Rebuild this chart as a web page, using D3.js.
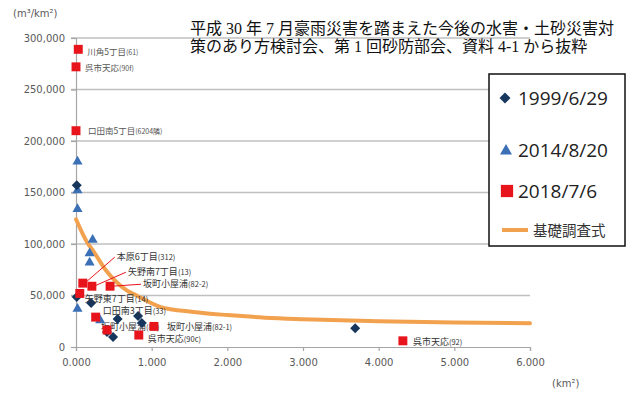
<!DOCTYPE html>
<html>
<head>
<meta charset="utf-8">
<script src="https://cdn.jsdelivr.net/npm/d3@7"></script>
<style>
  html, body { margin: 0; padding: 0; background: #fff; }
  svg { display: block; }
</style>
</head>
<body>
<svg id="chart" width="637" height="394"></svg>
<script>
// ---- data ----
const titleLines = [
  "平成 30 年 7 月豪雨災害を踏まえた今後の水害・土砂災害対",
  "策のあり方検討会、第 1 回砂防部会、資料 4-1 から抜粋"
];
const seriesNames = ["1999/6/29", "2014/8/20", "2018/7/6", "基礎調査式"];

const xTicks = [0, 1, 2, 3, 4, 5, 6];
const yTicks = [0, 50000, 100000, 150000, 200000, 250000, 300000];

// 1999/6/29 (area km², sediment m³/km²)
const s1999x = [0.01, 0.01, 0.20, 0.55, 0.82, 0.87, 0.49, 0.41, 3.69];
const s1999y = [157000, 48500, 42700, 27200, 30100, 23300, 9700, 14600, 18100];

// 2014/8/20
const s2014x = [0.02, 0.02, 0.02, 0.22, 0.18, 0.18, 0.02, 0.32];
const s2014y = [180000, 152000, 134000, 104000, 91000, 82000, 37000, 26000];

// 2018/7/6 with site names
const s2018x = [0.03, 0.00, 0.00, 0.09, 0.21, 0.45, 0.05, 0.26, 0.41, 1.03, 0.83, 4.32];
const s2018y = [289000, 272000, 210000, 62000, 59000, 59000, 52000, 29000, 16500, 20000, 11600, 6000];
const s2018name = ["川角5丁目", "呉市天応", "口田南5丁目", "本原6丁目", "矢野南7丁目", "坂町小屋浦",
                   "矢野東7丁目", "口田南3丁目", "坂町小屋浦", "坂町小屋浦", "呉市天応", "呉市天応"];
const s2018id = ["(61)", "(90f)", "(6204隣)", "(312)", "(13)", "(82-2)",
                 "(14)", "(33)", "(81)", "(82-1)", "(90c)", "(92)"];

// 基礎調査式 curve
const curveX = [0.0, 0.16, 0.22, 0.4, 0.67, 0.8, 1.11, 1.55, 2.0, 2.5, 3.0, 4.0, 5.0, 6.0];
const curveY = [124000, 100000, 94000, 74000, 55000, 50000, 39000, 34000, 31000, 28500, 27000, 25000, 23800, 23000];

// ---- label layout (pixel offsets from each 2018 point) ----
const labelDx = [9, 9, 12, 34, 36, 33, 5, 7, -6, 13, 9, 10];
const labelDy = [2, 1, 0, -26, -14, -2, 5, -6, -3, 0, 4, 1];
const labelLeader = [false, false, false, true, true, true, false, false, false, false, false, false];
const labelSmall = [true, true, true, false, false, false, false, false, false, false, false, false];
const labelUnder = [false, false, false, false, false, false, false, false, true, false, false, false];

// ---- drawing ----
const svg = d3.select("#chart");
const W = 637, H = 394;
const x = d3.scaleLinear().domain([0, 6]).range([76, 530]);
const y = d3.scaleLinear().domain([0, 300000]).range([347, 38]);

const C_NAVY = "#17365d", C_BLUE = "#3b6fb6", C_RED = "#e8141c", C_ORANGE = "#f2a14f";
const GRID = "#c0c0c0", AXIS_TXT = "#595959";
const CJK = "'Noto Sans CJK JP', sans-serif";

svg.append("rect").attr("width", W).attr("height", H).attr("fill", "#fff");

// horizontal gridlines
svg.append("g").selectAll("line").data(yTicks.filter(d => d > 0)).join("line")
  .attr("x1", x(0) - 5).attr("x2", x(6))
  .attr("y1", d => y(d)).attr("y2", d => y(d))
  .attr("stroke", GRID).attr("stroke-width", 1.3);

// axes
const yAxis = d3.axisLeft(y).tickValues(yTicks).tickFormat(d3.format(",")).tickSize(5).tickPadding(6);
const gy = svg.append("g").attr("transform", `translate(${x(0)},0)`).call(yAxis);
const xAxis = d3.axisBottom(x).tickValues(xTicks).tickFormat(d3.format(".3f")).tickSize(4).tickPadding(8);
const gx = svg.append("g").attr("transform", `translate(0,${y(0)})`).call(xAxis);
[gx, gy].forEach(g => {
  g.select(".domain").attr("stroke", "#a6a6a6").attr("stroke-width", 1.2);
  g.selectAll(".tick line").attr("stroke", "#a6a6a6").attr("stroke-width", 1.2);
  g.selectAll(".tick text").attr("fill", AXIS_TXT)
    .style("font-family", "'DejaVu Sans', sans-serif").style("font-size", "10px");
});

// unit labels
svg.append("text").attr("x", 13).attr("y", 17).text("(m³/km²)")
  .attr("fill", AXIS_TXT).style("font-family", "'DejaVu Sans', sans-serif").style("font-size", "10px");
svg.append("text").attr("x", 552).attr("y", 387).text("(km²)")
  .attr("fill", AXIS_TXT).style("font-family", "'DejaVu Sans', sans-serif").style("font-size", "10px");

// curve
const curvePts = curveX.map((d, i) => [d, curveY[i]]);
svg.append("path").datum(curvePts)
  .attr("d", d3.line().x(d => x(d[0])).y(d => y(d[1])).curve(d3.curveMonotoneX))
  .attr("fill", "none").attr("stroke", C_ORANGE).attr("stroke-width", 4).attr("stroke-linecap", "round");

// leader lines
const pts2018 = s2018x.map((d, i) => ({ x: d, y: s2018y[i], name: s2018name[i], id: s2018id[i], i }));
svg.append("g").selectAll("line").data(pts2018.filter(d => labelLeader[d.i])).join("line")
  .attr("x1", d => x(d.x) + 2).attr("y1", d => y(d.y))
  .attr("x2", d => x(d.x) + labelDx[d.i] - 2).attr("y2", d => y(d.y) + labelDy[d.i])
  .attr("stroke", C_RED).attr("stroke-width", 1);

function drawLabels(g, data) {
  const t = g.selectAll("text").data(data).join("text")
    .attr("x", d => x(d.x) + labelDx[d.i])
    .attr("y", d => y(d.y) + labelDy[d.i] + 3.2)
    .attr("fill", d => labelSmall[d.i] ? "#555" : "#333")
    .style("font-family", CJK)
    .style("font-size", d => labelSmall[d.i] ? "8.5px" : "9px");
  t.append("tspan").text(d => d.name);
  t.append("tspan").text(d => d.id).style("font-size", d => labelSmall[d.i] ? "7px" : "7.5px");
}

// labels that sit beneath the markers
drawLabels(svg.append("g"), pts2018.filter(d => labelUnder[d.i]));

// markers
const diamond = d3.symbol().type(d3.symbolSquare).size(50);
const tri = d3.symbol().type(d3.symbolTriangle).size(44);
const sq = d3.symbol().type(d3.symbolSquare).size(80);

svg.append("g").selectAll("path").data(s2014x.map((d, i) => [d, s2014y[i]])).join("path")
  .attr("d", tri).attr("fill", C_BLUE)
  .attr("transform", d => `translate(${x(d[0])},${y(d[1])})`);
svg.append("g").selectAll("path").data(s1999x.map((d, i) => [d, s1999y[i]])).join("path")
  .attr("d", diamond).attr("fill", C_NAVY)
  .attr("transform", d => `translate(${x(d[0])},${y(d[1])}) rotate(45)`);
svg.append("g").selectAll("path").data(pts2018).join("path")
  .attr("d", sq).attr("fill", C_RED)
  .attr("transform", d => `translate(${x(d.x)},${y(d.y)})`);

// remaining point labels
drawLabels(svg.append("g"), pts2018.filter(d => !labelUnder[d.i]));

// title
svg.append("g").selectAll("text").data(titleLines).join("text")
  .attr("x", 190).attr("y", (d, i) => 34 + i * 18)
  .text(d => d)
  .attr("fill", "#111")
  .style("font-family", "'Liberation Serif', 'Noto Sans CJK JP', serif")
  .style("font-size", "16px");

// legend
const lg = svg.append("g");
lg.append("rect").attr("x", 489).attr("y", 74).attr("width", 136).attr("height", 172)
  .attr("fill", "#fff").attr("stroke", "#111").attr("stroke-width", 1.5);
const legY = [98, 150, 191, 230];
lg.append("path").attr("d", d3.symbol().type(d3.symbolSquare).size(60))
  .attr("transform", `translate(505,${legY[0]}) rotate(45)`).attr("fill", C_NAVY);
lg.append("path").attr("d", d3.symbol().type(d3.symbolTriangle).size(62))
  .attr("transform", `translate(506,${legY[1] + 1})`).attr("fill", C_BLUE);
lg.append("path").attr("d", d3.symbol().type(d3.symbolSquare).size(150))
  .attr("transform", `translate(507,${legY[2]})`).attr("fill", C_RED);
lg.append("line").attr("x1", 502).attr("x2", 528).attr("y1", legY[3]).attr("y2", legY[3])
  .attr("stroke", C_ORANGE).attr("stroke-width", 4);
lg.selectAll("text.s").data(seriesNames.slice(0, 3)).join("text").attr("class", "s")
  .attr("x", 518).attr("y", (d, i) => legY[i] + 7)
  .text(d => d).attr("fill", "#222")
  .style("font-family", "'Open Sans', sans-serif").style("font-size", "19px");
lg.append("text").attr("x", 533).attr("y", legY[3] + 5.5).text(seriesNames[3])
  .attr("fill", "#333").style("font-family", CJK).style("font-size", "14.5px");
</script>
</body>
</html>
